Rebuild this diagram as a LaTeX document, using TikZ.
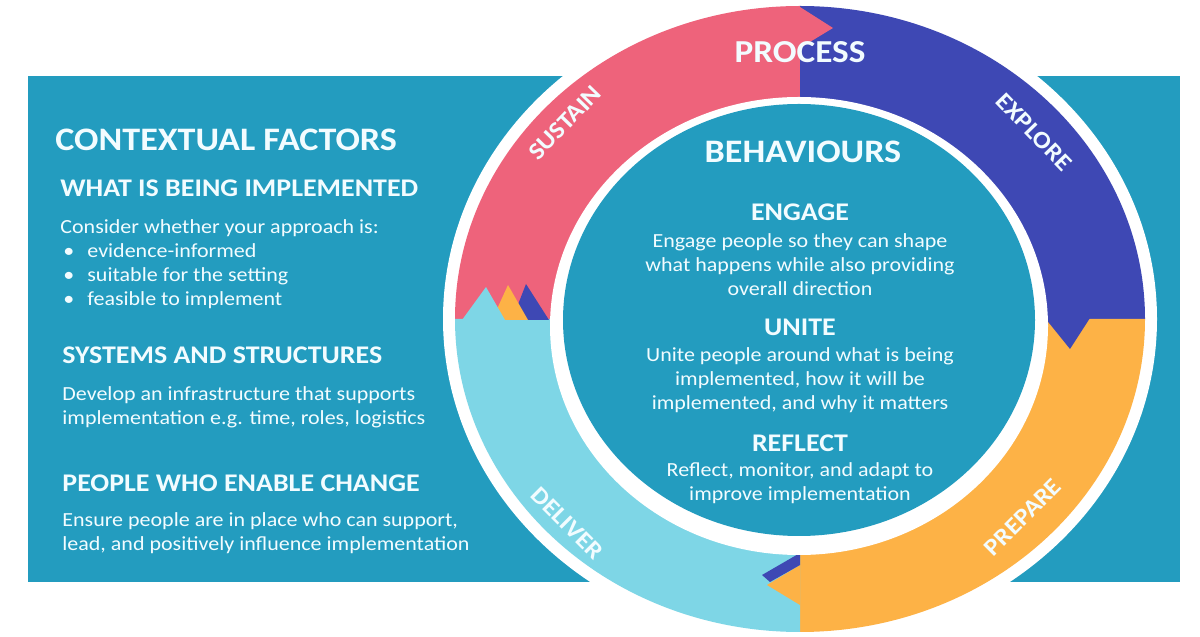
\documentclass[tikz,border=0pt]{standalone}
\usepackage{fontspec}
\setmainfont{Carlito}[FakeStretch=1.1]
\usepackage{tikz}
\usetikzlibrary{positioning}
\usepackage{xcolor}

\definecolor{tealbg}{RGB}{35,156,191}
\definecolor{sustainpink}{RGB}{238,99,123}
\definecolor{explorenavy}{RGB}{62,72,180}
\definecolor{prepareorange}{RGB}{253,178,70}
\definecolor{deliverblue}{RGB}{126,214,230}
\definecolor{softwhite}{RGB}{242,252,255}

\begin{document}
\begin{tikzpicture}[x=0.5pt, y=0.5pt,
			title/.style={text=softwhite, font=\bfseries\fontsize{16.4}{19}\selectfont, inner sep=0pt},
			heading/.style={text=softwhite, font=\bfseries\fontsize{12.7}{15}\selectfont, inner sep=0pt},
			bodytext/.style={text=softwhite, font=\fontsize{10}{12}\selectfont, align=left, inner sep=0pt},
			centretext/.style={text=softwhite, font=\fontsize{10}{12}\selectfont, align=center, inner sep=0pt},
			stagelabel/.style={text=softwhite, font=\bfseries\fontsize{12}{14}\selectfont, inner sep=0pt}
		]
		\useasboundingbox (0,0) rectangle (1200,637);
		\fill[white] (0,0) rectangle (1200,637);
		\fill[tealbg] (28,55) rectangle (1180,561);
		\fill[white] (800,318) ellipse[x radius=357, y radius=325];

		% process ring, one quadrant per stage
		\fill[sustainpink] (800,318) -- (455,318) arc[start angle=180, end angle=90, x radius=345, y radius=313] -- cycle;
		\fill[explorenavy] (800,318) -- (800,631) arc[start angle=90, end angle=0, x radius=345, y radius=313] -- cycle;
		\fill[prepareorange] (800,318) -- (1145,318) arc[start angle=0, end angle=-90, x radius=345, y radius=313] -- cycle;
		\fill[deliverblue] (800,318) -- (800,5) arc[start angle=-90, end angle=-180, x radius=345, y radius=313] -- cycle;

		% arrow tips between the stages
		\fill[sustainpink] (800,630) -- (833,609) -- (800,589) -- cycle;
		\fill[explorenavy] (1045,319) -- (1070,288) -- (1090,319) -- cycle;
		\fill[prepareorange] (800,72) -- (767,52) -- (800,32) -- cycle;
		\fill[explorenavy] (762,62) -- (800,84) -- (800,72) -- (770,55) -- cycle;
		\fill[explorenavy] (512,317) -- (526,353) -- (549,317) -- cycle;
		\fill[prepareorange] (492,317) -- (508,352) -- (528,317) -- cycle;
		\fill[deliverblue] (462,317) -- (486,350) -- (505,317) -- cycle;

		% inner circle
		\fill[white] (799,311) ellipse[x radius=249, y radius=229];
		\fill[tealbg] (799,317) ellipse[x radius=236, y radius=216];

		% ring labels
		\node[title, font=\bfseries\fontsize{16}{19}\selectfont] (process) at (800,585) {PROCESS};
		\node[stagelabel, rotate=46] (sustain) at (565,514) {SUSTAIN};
		\node[stagelabel, rotate=-46] (explore) at (1034,505) {EXPLORE};
		\node[stagelabel, rotate=45] (prepare) at (1023,120) {PREPARE};
		\node[stagelabel, rotate=-45] (deliver) at (567,114) {DELIVER};

		% behaviours
		\node[title] (behaviours) at (803,485) {BEHAVIOURS};
		\node[heading] (engage) at (800,425) {ENGAGE};
		\node[centretext] (engagetxt) at (800,372) {Engage people so they can shape\\what happens while also providing\\overall direction};
		\node[heading] (unite) at (800,310) {UNITE};
		\node[centretext] (unitetxt) at (800,257) {Unite people around what is being\\implemented, how it will be\\implemented, and why it matters};
		\node[heading] (reflect) at (800,194) {REFLECT};
		\node[centretext] (reflecttxt) at (800,154) {Reflect, monitor, and adapt to\\improve implementation};

		% contextual factors
		\node[title, anchor=west] (context) at (55,497) {CONTEXTUAL FACTORS};
		\node[heading, anchor=west] (whatimpl) at (60,449) {WHAT IS BEING IMPLEMENTED};
		\node[bodytext, anchor=west] (whattxt) at (60,373) {Consider whether your approach is:\\
			\makebox[13.5pt][l]{\hspace{1.5pt}\textbullet}evidence-informed\\
			\makebox[13.5pt][l]{\hspace{1.5pt}\textbullet}suitable for the setting\\
			\makebox[13.5pt][l]{\hspace{1.5pt}\textbullet}feasible to implement};
		\node[heading, anchor=west] (systems) at (62,282) {SYSTEMS AND STRUCTURES};
		\node[bodytext, anchor=west] (systemstxt) at (62,230) {Develop an infrastructure that supports\\implementation e.g. time, roles, logistics};
		\node[heading, anchor=west] (people) at (62,154) {PEOPLE WHO ENABLE CHANGE};
		\node[bodytext, anchor=west] (peopletxt) at (62,104) {Ensure people are in place who can support,\\lead, and positively influence implementation};
	\end{tikzpicture}
\end{document}
